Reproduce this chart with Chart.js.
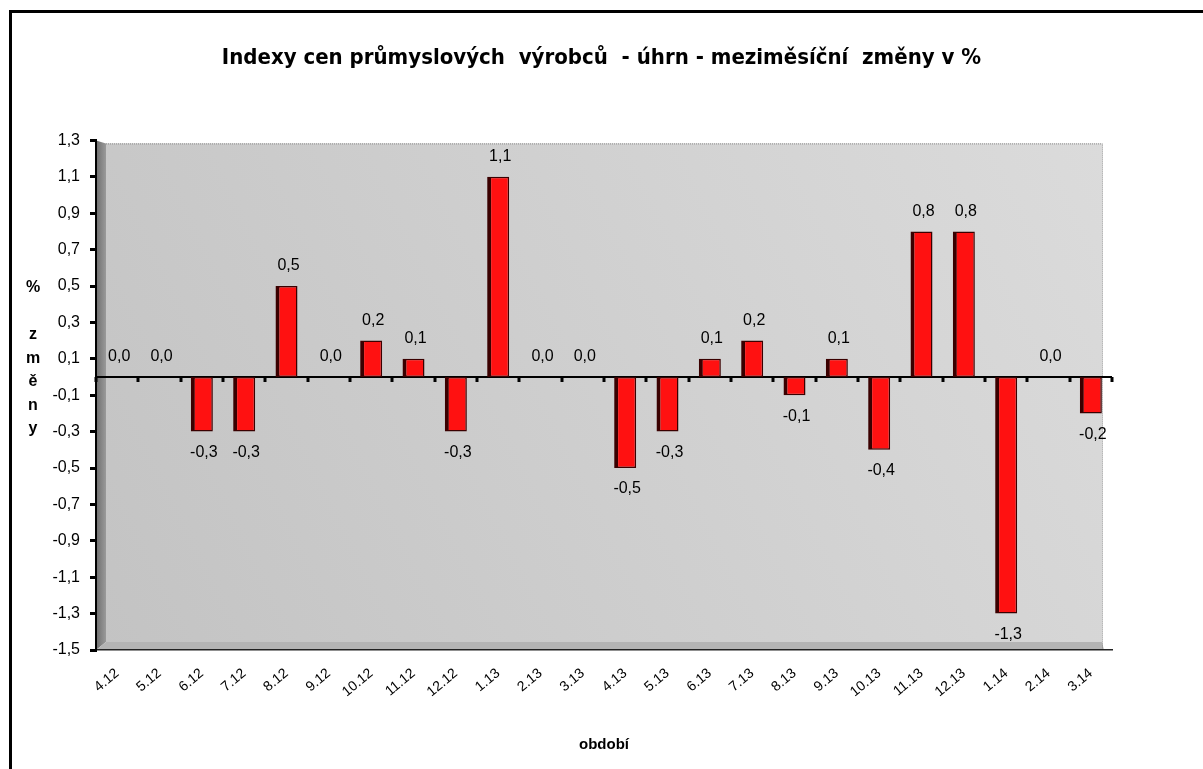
<!DOCTYPE html>
<html>
<head>
<meta charset="utf-8">
<script src="https://cdn.jsdelivr.net/npm/chart.js@4/dist/chart.umd.min.js"></script>
<style>
  html, body { margin: 0; padding: 0; background: #fff; overflow: hidden; }
  #wrap { position: relative; width: 1203px; height: 769px; }
  #frame { position: absolute; left: 9px; top: 10px; width: 1300px; height: 900px;
           border: 3px solid #000; box-sizing: border-box; pointer-events: none; }
</style>
</head>
<body>
<div id="wrap">
  <canvas id="c" width="1203" height="769"></canvas>
  <div id="frame"></div>
</div>
<script>
const periods = ['4.12', '5.12', '6.12', '7.12', '8.12', '9.12', '10.12', '11.12', '12.12',
  '1.13', '2.13', '3.13', '4.13', '5.13', '6.13', '7.13', '8.13', '9.13', '10.13',
  '11.13', '12.13', '1.14', '2.14', '3.14'];
const changes = [0.0, 0.0, -0.3, -0.3, 0.5, 0.0, 0.2, 0.1, -0.3,
  1.1, 0.0, 0.0, -0.5, -0.3, 0.1, 0.2, -0.1, 0.1, -0.4,
  0.8, 0.8, -1.3, 0.0, -0.2];
const yTitle = ['%', '', 'z', 'm', 'ě', 'n', 'y'];

const FONT = "'Liberation Sans', Arial, sans-serif";
const fmt = v => v.toFixed(1).replace('.', ',');

// gray "3D" walls behind the bars
const walls = {
  id: 'walls',
  beforeDraw(chart) {
    const { ctx, chartArea: a } = chart;
    const L = a.left, R = a.right - 10, T = a.top + 3, B = a.bottom - 8;
    ctx.save();
    const g = ctx.createLinearGradient(L, B, R, T);
    g.addColorStop(0, '#c3c3c3');
    g.addColorStop(1, '#dbdbdb');
    ctx.fillStyle = g;
    ctx.fillRect(L + 10, T, R - L - 10, B - T);
    // left wall
    const lw = ctx.createLinearGradient(L, 0, L + 10, 0);
    lw.addColorStop(0, '#6e6e6e');
    lw.addColorStop(1, '#9a9a9a');
    ctx.fillStyle = lw;
    ctx.beginPath();
    ctx.moveTo(L, a.top); ctx.lineTo(L + 10, T); ctx.lineTo(L + 10, B); ctx.lineTo(L, a.bottom);
    ctx.closePath(); ctx.fill();
    // floor
    ctx.fillStyle = '#b4b4b4';
    ctx.beginPath();
    ctx.moveTo(L, a.bottom); ctx.lineTo(L + 10, B); ctx.lineTo(R, B); ctx.lineTo(R + 2, a.bottom);
    ctx.closePath(); ctx.fill();
    // dotted outline top/right
    ctx.strokeStyle = '#8a8a8a';
    ctx.lineWidth = 1;
    ctx.setLineDash([1, 1]);
    ctx.beginPath();
    ctx.moveTo(L + 10, T + 0.5); ctx.lineTo(R + 0.5, T + 0.5); ctx.lineTo(R + 0.5, a.bottom);
    ctx.stroke();
    ctx.restore();
  }
};

// zero line with category tick marks
const zeroAxis = {
  id: 'zeroAxis',
  beforeDatasetsDraw(chart) {
    const { ctx, scales: { x, y } } = chart;
    const y0 = Math.round(y.getPixelForValue(0));
    const step = (x.right - x.left) / periods.length;
    ctx.save();
    ctx.strokeStyle = '#000';
    ctx.lineWidth = 2;
    ctx.beginPath();
    ctx.moveTo(x.left, y0); ctx.lineTo(x.right, y0);
    ctx.stroke();
    ctx.lineWidth = 3;
    for (let i = 0; i <= periods.length; i++) {
      const px = Math.round(x.left + i * step);
      ctx.beginPath();
      ctx.moveTo(px, y0); ctx.lineTo(px, y0 + 5);
      ctx.stroke();
    }
    ctx.restore();
  }
};

// value labels above / below each bar
const valueLabels = {
  id: 'valueLabels',
  afterDatasetsDraw(chart) {
    const { ctx } = chart;
    const meta = chart.getDatasetMeta(0);
    ctx.save();
    ctx.font = '16px ' + FONT;
    ctx.fillStyle = '#000';
    ctx.textAlign = 'center';
    ctx.textBaseline = 'middle';
    meta.data.forEach((bar, i) => {
      const v = changes[i];
      const ty = v >= 0 ? bar.y - 20 : bar.y + 21;
      ctx.fillText(fmt(v), bar.x + 2, ty);
    });
    ctx.restore();
  }
};

// stacked vertical y-axis title
const stackedTitle = {
  id: 'stackedTitle',
  afterDraw(chart) {
    const { ctx, scales: { y } } = chart;
    ctx.save();
    ctx.font = 'bold 16px ' + FONT;
    ctx.fillStyle = '#000';
    ctx.textAlign = 'center';
    ctx.textBaseline = 'middle';
    const start = y.getPixelForValue(0.5) + 2;
    yTitle.forEach((ch, i) => ctx.fillText(ch, 33, start + i * 23.5));
    ctx.restore();
  }
};

new Chart(document.getElementById('c'), {
  type: 'bar',
  data: {
    labels: periods,
    datasets: [{
      data: changes,
      backgroundColor: '#ff1111',
      borderColor: '#3a0000',
      borderWidth: { left: 4, right: 1.5, top: 1.5, bottom: 1.5 },
      borderSkipped: false,
      barPercentage: 0.52,
      categoryPercentage: 1
    }]
  },
  options: {
    responsive: false,
    animation: false,
    devicePixelRatio: 1,
    layout: { padding: 0 },
    plugins: {
      legend: { display: false },
      tooltip: { enabled: false },
      title: {
        display: true,
        text: 'Indexy cen průmyslových  výrobců  - úhrn - meziměsíční  změny v %',
        color: '#000',
        font: { family: "'Liberation Sans Narrow', 'DejaVu Sans Condensed', " + FONT, size: 22, weight: 'bold' },
        padding: { top: 45, bottom: 69 }
      }
    },
    scales: {
      x: {
        grid: { display: false, drawTicks: false },
        border: { display: true, color: '#222', width: 1.5, dash: [1, 1] },
        ticks: {
          color: '#000',
          font: { family: FONT, size: 14 },
          minRotation: 40,
          maxRotation: 40,
          padding: 15,
          autoSkip: false
        },
        title: {
          display: true,
          text: 'období',
          color: '#000',
          font: { family: FONT, size: 15, weight: 'bold' },
          padding: { top: 0, bottom: 15 }
        },
        afterFit(scale) { scale.height = 119; }
      },
      y: {
        min: -1.5,
        max: 1.3,
        ticks: {
          stepSize: 0.2,
          color: '#000',
          font: { family: FONT, size: 16 },
          padding: 10,
          callback: v => fmt(v)
        },
        grid: { drawOnChartArea: false, color: '#000', tickLength: 6, lineWidth: 3 },
        border: { display: true, color: '#000', width: 2 },
        afterFit(scale) { scale.width = 96; }
      },
      // empty right-hand axis that only reserves the white margin
      yr: {
        position: 'right',
        min: -1.5,
        max: 1.3,
        ticks: { display: false },
        grid: { display: false, drawTicks: false },
        border: { display: false },
        afterFit(scale) { scale.width = 91; }
      }
    }
  },
  plugins: [walls, zeroAxis, valueLabels, stackedTitle]
});
</script>
</body>
</html>
